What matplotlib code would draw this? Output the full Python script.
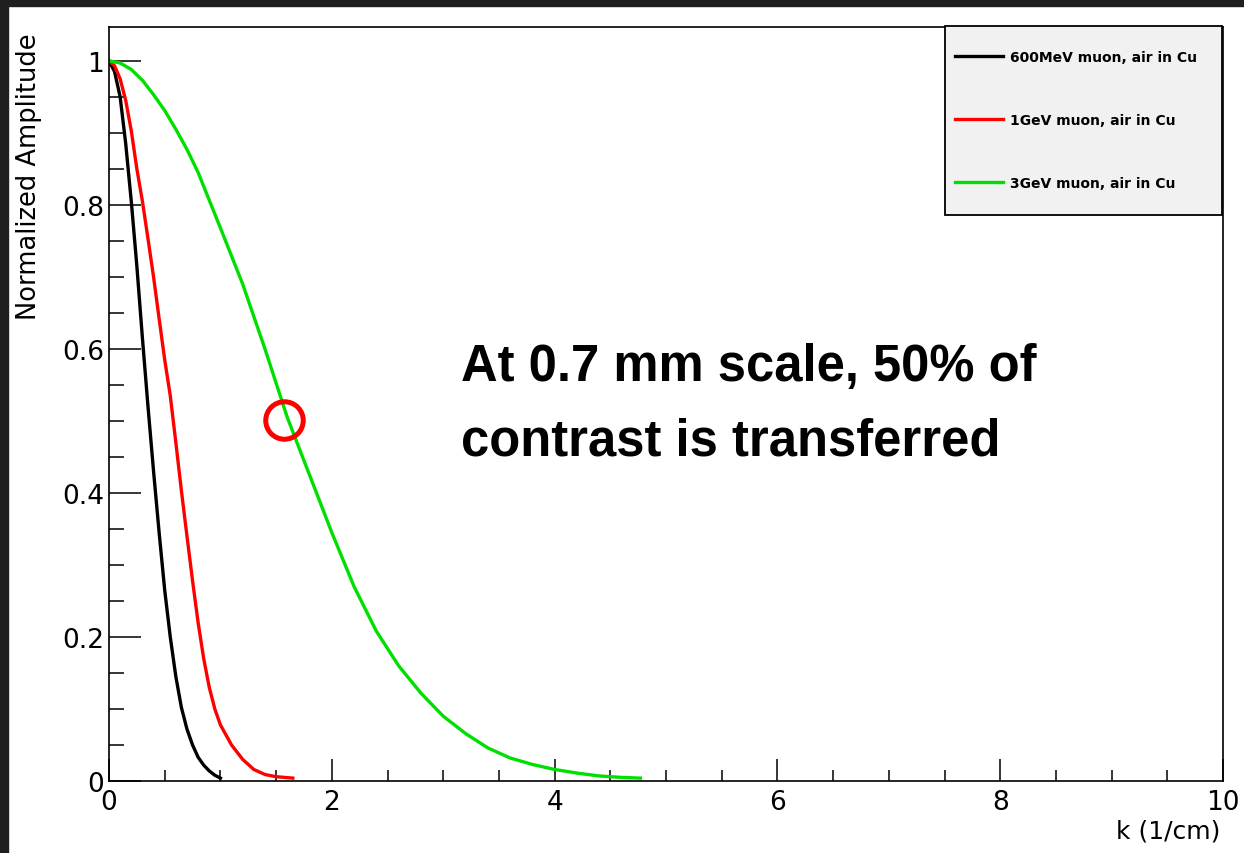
#!/usr/bin/env python3
import matplotlib
matplotlib.use('Agg')
import matplotlib.pyplot as plt
from matplotlib.patches import Rectangle
from matplotlib.ticker import MultipleLocator, FuncFormatter

# values: k (1/cm) vs normalized amplitude
k_600mev = [0, 0.05, 0.1, 0.15, 0.2, 0.25, 0.3, 0.35, 0.4, 0.45, 0.5,
            0.55, 0.6, 0.65, 0.7, 0.75, 0.8, 0.85, 0.9, 0.95, 1.0]
amp_600mev = [1.0, 0.985, 0.95, 0.885, 0.805, 0.715, 0.615, 0.52, 0.43, 0.345, 0.265,
              0.2, 0.145, 0.102, 0.072, 0.05, 0.033, 0.022, 0.014, 0.008, 0.004]

k_1gev = [0, 0.05, 0.1, 0.15, 0.2, 0.25, 0.3, 0.35, 0.4, 0.45, 0.5, 0.55, 0.6, 0.65,
          0.7, 0.75, 0.8, 0.85, 0.9, 0.95, 1.0, 1.1, 1.2, 1.3, 1.4, 1.5, 1.65]
amp_1gev = [1.0, 0.993, 0.975, 0.945, 0.903, 0.85, 0.805, 0.753, 0.7, 0.642, 0.585, 0.535,
            0.47, 0.403, 0.34, 0.278, 0.22, 0.17, 0.13, 0.1, 0.078, 0.05, 0.03, 0.016,
            0.009, 0.006, 0.004]

k_3gev = [0, 0.1, 0.2, 0.3, 0.4, 0.5, 0.6, 0.7, 0.8, 1.0, 1.2, 1.4, 1.6, 1.8, 2.0, 2.2,
          2.4, 2.6, 2.8, 3.0, 3.2, 3.4, 3.6, 3.8, 4.0, 4.2, 4.4, 4.6, 4.77]
amp_3gev = [1.0, 0.997, 0.988, 0.973, 0.953, 0.931, 0.905, 0.877, 0.845, 0.768, 0.69,
            0.6, 0.505, 0.425, 0.345, 0.27, 0.208, 0.16, 0.122, 0.09, 0.066, 0.046,
            0.032, 0.023, 0.016, 0.011, 0.007, 0.005, 0.004]

labels = ['600MeV muon, air in Cu', '1GeV muon, air in Cu', '3GeV muon, air in Cu']
colors = ['black', '#ff0000', '#00e000']

# highlighted point
mark_k, mark_amp = 1.57, 0.501
note_lines = ['At 0.7 mm scale, 50% of', 'contrast is transferred']


def main():
    fig = plt.figure(figsize=(12.44, 8.54), dpi=100)
    ax = fig.add_axes([109 / 1244, 1 - 782 / 854, 1114 / 1244, 754 / 854])

    # dark screen border at top and left
    fig.patches.append(Rectangle((0, 1 - 7 / 854), 1, 7 / 854, transform=fig.transFigure,
                                 color='#1f1f1f', zorder=10))
    fig.patches.append(Rectangle((0, 0), 8 / 1244, 1, transform=fig.transFigure,
                                 color='#1f1f1f', zorder=10))

    series = [(k_600mev, amp_600mev), (k_1gev, amp_1gev), (k_3gev, amp_3gev)]
    for (k, a), lab, c in zip(series, labels, colors):
        ax.plot(k, a, color=c, lw=2.4, label=lab, solid_joinstyle='round')

    ax.plot(mark_k, mark_amp, 'o', ms=27, mfc='none', mec='#ff0000', mew=3.6)

    ax.text(3.16, 0.557, note_lines[0], fontsize=36.5, fontweight='bold',
            family='Liberation Sans', va='baseline', ha='left')
    ax.text(3.16, 0.453, note_lines[1], fontsize=36.5, fontweight='bold',
            family='Liberation Sans', va='baseline', ha='left')

    ax.set_xlim(0, 10)
    ax.set_ylim(0, 1.047)

    ax.xaxis.set_major_locator(MultipleLocator(2))
    ax.xaxis.set_minor_locator(MultipleLocator(0.5))
    ax.yaxis.set_major_locator(MultipleLocator(0.2))
    ax.yaxis.set_minor_locator(MultipleLocator(0.05))
    fmt = FuncFormatter(lambda v, p: '%g' % round(v, 2))
    ax.xaxis.set_major_formatter(fmt)
    ax.yaxis.set_major_formatter(fmt)

    ax.tick_params(axis='x', which='major', direction='in', length=16, width=1.1,
                   labelsize=19, pad=6, top=False)
    ax.tick_params(axis='x', which='minor', direction='in', length=8, width=1.1, top=False)
    ax.tick_params(axis='y', which='major', direction='in', length=23, width=1.1,
                   labelsize=19, pad=3.5, right=False)
    ax.tick_params(axis='y', which='minor', direction='in', length=11, width=1.1, right=False)

    for s in ax.spines.values():
        s.set_linewidth(1.2)

    ax.set_xlabel('k (1/cm)', fontsize=18, loc='right')
    ax.xaxis.set_label_coords(0.9973, -0.050)
    ax.set_ylabel('Normalized Amplitude', fontsize=18.5, loc='top')
    ax.yaxis.set_label_coords(-0.060, 0.993)

    # legend box drawn separately, entries placed inside it
    box = Rectangle((0.7505, 0.7507), 0.2487, 0.2506, transform=ax.transAxes,
                    facecolor='#f1f1f1', edgecolor='black', lw=1.3, zorder=4,
                    clip_on=False)
    ax.add_patch(box)
    leg = ax.legend(loc='upper left', bbox_to_anchor=(0.7505, 0.982), frameon=False,
                    borderaxespad=0, borderpad=0.7, prop={'weight': 'bold', 'size': 10},
                    labelspacing=3.5, handlelength=3.45, handletextpad=0.5)
    leg.set_zorder(5)

    fig.savefig('out.png', dpi=100)


if __name__ == "__main__":
    main()
